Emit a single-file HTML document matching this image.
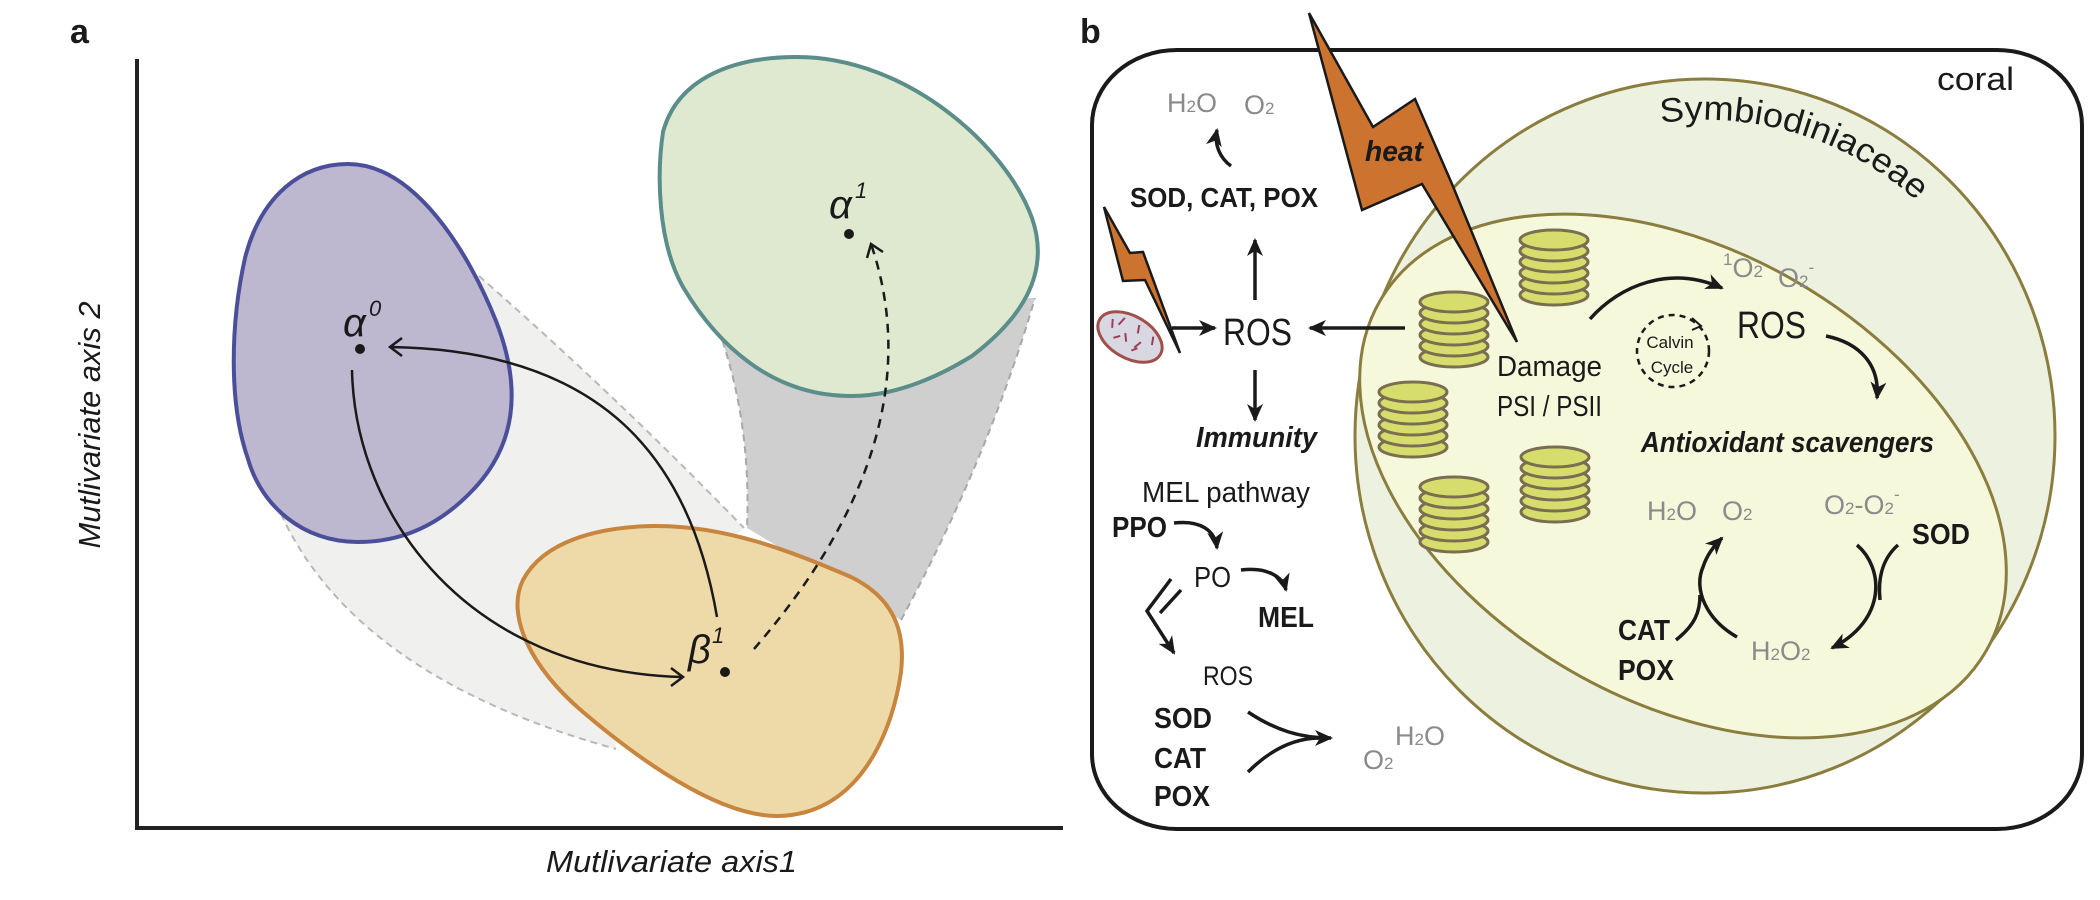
<!DOCTYPE html>
<html><head><meta charset="utf-8"><style>
html,body{margin:0;padding:0;background:#fff;}
svg{display:block;}
text{font-family:"Liberation Sans",sans-serif;}
</style></head><body>
<svg width="2100" height="900" viewBox="0 0 2100 900" xmlns="http://www.w3.org/2000/svg">
<defs>
<marker id="ah" markerUnits="userSpaceOnUse" markerWidth="24" markerHeight="24" refX="16" refY="8" orient="auto">
<path d="M0,0 L18,8 L0,16 L5,8 Z" fill="#1a1a1a"/></marker>
</defs>
<!-- Panel a -->
<text x="70" y="43" font-size="34" font-weight="bold" fill="#1a1a1a">a</text>
<path d="M479,276 Q615,395 744,528 L600,650 L616,749 Q356,677 281,514 Z" fill="#f0f0ee"/>
<path d="M479,276 Q615,395 744,528" fill="none" stroke="#b8b8b8" stroke-width="2" stroke-dasharray="7,5"/>
<path d="M281,514 Q356,677 616,749" fill="none" stroke="#b8b8b8" stroke-width="2" stroke-dasharray="7,5"/>
<path d="M710,307 Q752,409 747,528 L901,620 Q988,459 1035,298 Z" fill="#cfcfcf"/>
<path d="M710,307 Q752,409 747,528" fill="none" stroke="#a8a8a8" stroke-width="2" stroke-dasharray="7,5"/>
<path d="M901,620 Q988,459 1035,298" fill="none" stroke="#a8a8a8" stroke-width="2" stroke-dasharray="7,5"/>
<path d="M348,164 C415,164 469,253 496,321 C523,390 516,448 469,494 C429,534 389,542 358,542 C302,542 261,505 248,459 C228,402 231,321 245,258 C261,195 302,164 348,164 Z" fill="#bdb7d0" stroke="#4b4f9a" stroke-width="4"/>
<path d="M797,57 C905,57 1005,144 1032,218 C1052,276 1018,321 972,356 C925,385 884,396 851,396 C771,396 717,344 683,287 C657,241 657,172 663,132 C677,80 730,57 797,57 Z" fill="#dfe9cf" stroke="#5b8d8a" stroke-width="4"/>
<path d="M653,526 C724,525 791,551 851,577 C898,600 905,637 901,672 C894,723 864,815 777,816 C717,816 637,758 583,712 C529,666 506,614 523,580 C543,542 596,527 653,526 Z" fill="#eed9a9" stroke="#c8853e" stroke-width="4"/>
<path d="M352,370 C355,517 469,672 683,677" fill="none" stroke="#1a1a1a" stroke-width="2.5"/>
<path d="M671,668 L683,677 L671,686" fill="none" stroke="#1a1a1a" stroke-width="2.5"/>
<path d="M717,617 C690,459 603,350 390,347" fill="none" stroke="#1a1a1a" stroke-width="2.5"/>
<path d="M402,338 L390,347 L402,356" fill="none" stroke="#1a1a1a" stroke-width="2.5"/>
<path d="M754,649 C844,545 925,402 871,244" fill="none" stroke="#1a1a1a" stroke-width="2.5" stroke-dasharray="9,7"/>
<path d="M883,252 L871,244 L867,258" fill="none" stroke="#1a1a1a" stroke-width="2.5"/>
<circle cx="360" cy="349" r="5" fill="#1a1a1a"/>
<circle cx="849" cy="234" r="5" fill="#1a1a1a"/>
<circle cx="725" cy="672" r="5" fill="#1a1a1a"/>
<text x="343" y="336" font-size="40" font-style="italic" fill="#1a1a1a">α</text>
<text x="369" y="316" font-size="22" font-style="italic" fill="#1a1a1a">0</text>
<text x="829" y="218" font-size="40" font-style="italic" fill="#1a1a1a">α</text>
<text x="855" y="198" font-size="22" font-style="italic" fill="#1a1a1a">1</text>
<text x="688" y="663" font-size="40" font-style="italic" fill="#1a1a1a">β</text>
<text x="712" y="643" font-size="22" font-style="italic" fill="#1a1a1a">1</text>
<line x1="137" y1="59" x2="137" y2="830" stroke="#222" stroke-width="4"/>
<line x1="135" y1="828" x2="1063" y2="828" stroke="#222" stroke-width="4"/>
<text x="546" y="872" font-size="31" font-style="italic" fill="#1a1a1a" textLength="251" lengthAdjust="spacingAndGlyphs">Mutlivariate axis1</text>
<text transform="translate(100,425) rotate(-90)" x="0" y="0" text-anchor="middle" font-size="31" font-style="italic" fill="#1a1a1a" textLength="247" lengthAdjust="spacingAndGlyphs">Mutlivariate axis  2</text>

<!-- Panel b -->
<text x="1080" y="43" font-size="34" font-weight="bold" fill="#1a1a1a">b</text>
<rect x="1092" y="50" width="990" height="779" rx="85" ry="75" fill="#fff" stroke="#1a1a1a" stroke-width="4"/>
<text x="1937" y="90" font-size="32" fill="#1a1a1a" textLength="77" lengthAdjust="spacingAndGlyphs">coral</text>
<ellipse cx="1705" cy="436" rx="350" ry="357" fill="#edf2e0" stroke="#8a7d3e" stroke-width="3"/>
<ellipse cx="1683" cy="476" rx="350" ry="225" transform="rotate(30 1683 476)" fill="#f6f8dc" stroke="#8a7d3e" stroke-width="3"/>
<path id="sym" d="M 1661 123 A 316 316 0 0 1 1979 278" fill="none"/>
<text font-size="34" fill="#1a1a1a"><textPath href="#sym" textLength="276" lengthAdjust="spacingAndGlyphs">Symbiodiniaceae</textPath></text>

<!-- stacks -->
<g fill="#d6dd6c" stroke="#7a6e50" stroke-width="3">
<g id="stA">
<ellipse cx="1554" cy="295" rx="34" ry="10"/><ellipse cx="1554" cy="284" rx="34" ry="10"/><ellipse cx="1554" cy="273" rx="34" ry="10"/><ellipse cx="1554" cy="262" rx="34" ry="10"/><ellipse cx="1554" cy="251" rx="34" ry="10"/><ellipse cx="1554" cy="240" rx="34" ry="10"/>
</g>
<use href="#stA" x="-100" y="62"/>
<use href="#stA" x="-141" y="152"/>
<use href="#stA" x="-100" y="247"/>
<use href="#stA" x="1" y="217"/>
</g>

<!-- heat bolt -->
<polygon points="1309,13 1373,127 1415,99 1452,184 1517,342 1422,184 1362,210" fill="#cd7330" stroke="#1a1a1a" stroke-width="2.5" stroke-linejoin="miter"/>
<text x="1365" y="161" font-size="29" font-weight="bold" font-style="italic" fill="#1a1a1a" textLength="58" lengthAdjust="spacingAndGlyphs">heat</text>
<!-- small bolt -->
<polygon points="1104,207 1130,253 1143,252 1180,353 1145,280 1123,281" fill="#cd7330" stroke="#1a1a1a" stroke-width="2.5"/>
<!-- mito -->
<g transform="rotate(30 1130 337)">
<ellipse cx="1130" cy="337" rx="35" ry="21" fill="#d9d7e2" stroke="#a0504a" stroke-width="3"/>
<path d="M1106,330 l4,8 M1116,323 l-2,9 M1124,336 l5,7 M1132,322 l3,8 M1142,336 l-3,8 M1150,325 l3,8 M1116,346 l5,-5 M1138,348 l4,-5" stroke="#9a3f55" stroke-width="2"/>
</g>

<g stroke="#1a1a1a" stroke-width="3.5" fill="none">
<line x1="1172" y1="328" x2="1215" y2="328" marker-end="url(#ah)"/>
<line x1="1405" y1="328" x2="1310" y2="328" marker-end="url(#ah)"/>
<line x1="1255" y1="300" x2="1255" y2="240" marker-end="url(#ah)"/>
<line x1="1255" y1="370" x2="1255" y2="420" marker-end="url(#ah)"/>
<path d="M1231,166 C1220,158 1214,145 1217,130" marker-end="url(#ah)"/>
<path d="M1174,523 C1200,520 1215,530 1217,548" marker-end="url(#ah)"/>
<path d="M1241,570 C1265,567 1282,575 1286,590" marker-end="url(#ah)"/>
<path d="M1171,579 L1147,611 L1174,653" marker-end="url(#ah)"/>
<path d="M1181,590 L1160,613"/>
<path d="M1248,712 C1275,730 1300,738 1331,738" marker-end="url(#ah)"/>
<path d="M1248,772 C1275,745 1300,738 1320,738"/>
<path d="M1590,319 C1620,285 1670,265 1722,288" marker-end="url(#ah)"/>
<path d="M1826,336 C1860,343 1880,365 1877,398" marker-end="url(#ah)"/>
<path d="M1857,545 C1884,568 1887,620 1832,648" marker-end="url(#ah)"/>
<path d="M1898,545 C1881,560 1878,580 1880,600"/>
<path d="M1737,637 C1707,620 1693,590 1703,567 C1707,555 1713,547 1722,538" marker-end="url(#ah)"/>
<path d="M1676,640 C1695,625 1700,612 1700,595"/>
</g>
<circle cx="1673" cy="351" r="36" fill="none" stroke="#1a1a1a" stroke-width="2.5" stroke-dasharray="6,5"/>
<path d="M1692,318 L1701,326 L1692,330" fill="none" stroke="#1a1a1a" stroke-width="2"/>
<text x="1670" y="348" font-size="17" text-anchor="middle" fill="#1a1a1a">Calvin</text>
<text x="1672" y="373" font-size="17" text-anchor="middle" fill="#1a1a1a">Cycle</text>

<g fill="#1a1a1a">
<text x="1223" y="345" font-size="38" textLength="69" lengthAdjust="spacingAndGlyphs">ROS</text>
<text x="1737" y="338" font-size="38" textLength="69" lengthAdjust="spacingAndGlyphs">ROS</text>
<text x="1130" y="207" font-size="28" font-weight="bold" textLength="188" lengthAdjust="spacingAndGlyphs">SOD, CAT, POX</text>
<text x="1196" y="447" font-size="29" font-weight="bold" font-style="italic" textLength="121" lengthAdjust="spacingAndGlyphs">Immunity</text>
<text x="1142" y="502" font-size="29" textLength="168" lengthAdjust="spacingAndGlyphs">MEL pathway</text>
<text x="1112" y="537" font-size="29" font-weight="bold" textLength="55" lengthAdjust="spacingAndGlyphs">PPO</text>
<text x="1194" y="587" font-size="29" textLength="37" lengthAdjust="spacingAndGlyphs">PO</text>
<text x="1258" y="627" font-size="29" font-weight="bold" textLength="56" lengthAdjust="spacingAndGlyphs">MEL</text>
<text x="1203" y="685" font-size="27" textLength="50" lengthAdjust="spacingAndGlyphs">ROS</text>
<text x="1154" y="728" font-size="29" font-weight="bold" textLength="58" lengthAdjust="spacingAndGlyphs">SOD</text>
<text x="1154" y="768" font-size="29" font-weight="bold" textLength="52" lengthAdjust="spacingAndGlyphs">CAT</text>
<text x="1154" y="806" font-size="29" font-weight="bold" textLength="56" lengthAdjust="spacingAndGlyphs">POX</text>
<text x="1497" y="376" font-size="29" textLength="105" lengthAdjust="spacingAndGlyphs">Damage</text>
<text x="1497" y="416" font-size="29" textLength="105" lengthAdjust="spacingAndGlyphs">PSI / PSII</text>
<text x="1641" y="452" font-size="29" font-weight="bold" font-style="italic" textLength="293" lengthAdjust="spacingAndGlyphs">Antioxidant scavengers</text>
<text x="1912" y="544" font-size="29" font-weight="bold" textLength="58" lengthAdjust="spacingAndGlyphs">SOD</text>
<text x="1618" y="640" font-size="29" font-weight="bold" textLength="52" lengthAdjust="spacingAndGlyphs">CAT</text>
<text x="1618" y="680" font-size="29" font-weight="bold" textLength="56" lengthAdjust="spacingAndGlyphs">POX</text>
</g>
<g fill="#8a8a8a" font-size="27">
<text x="1167" y="112">H<tspan font-size="17">2</tspan>O</text>
<text x="1244" y="114">O<tspan font-size="17">2</tspan></text>
<text x="1363" y="769">O<tspan font-size="17">2</tspan></text>
<text x="1395" y="745">H<tspan font-size="17">2</tspan>O</text>
<text x="1723" y="277"><tspan font-size="17" dy="-12">1</tspan><tspan dy="12">O</tspan><tspan font-size="17">2</tspan></text>
<text x="1778" y="287">O<tspan font-size="17">2</tspan><tspan font-size="17" dy="-14">-</tspan></text>
<text x="1647" y="520">H<tspan font-size="17">2</tspan>O</text>
<text x="1722" y="520">O<tspan font-size="17">2</tspan></text>
<text x="1824" y="514">O<tspan font-size="17">2</tspan>-O<tspan font-size="17">2</tspan><tspan font-size="17" dy="-14">-</tspan></text>
<text x="1751" y="660">H<tspan font-size="17">2</tspan>O<tspan font-size="17">2</tspan></text>
</g>
</svg>
</body></html>
